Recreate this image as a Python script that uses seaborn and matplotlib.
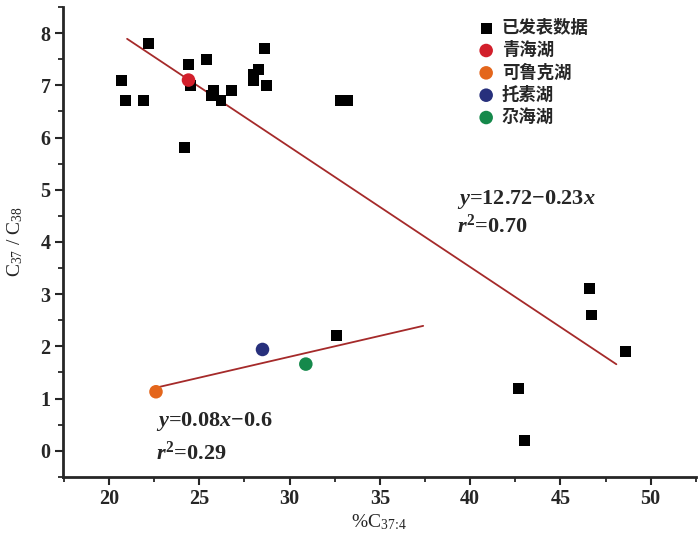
import matplotlib
matplotlib.use("Agg")
import matplotlib.pyplot as plt
import seaborn as sns
import pandas as pd
import numpy as np
from matplotlib.ticker import MultipleLocator
from matplotlib.font_manager import FontProperties

# ---- data ----
pub_x = [20.7, 20.9, 21.9, 22.2, 24.4, 24.5, 24.2, 25.4, 25.8, 25.7, 26.2,
         26.8, 28.0, 28.0, 28.3, 28.6, 28.7, 32.8, 33.2, 32.6, 42.7, 43.0,
         46.6, 46.7, 48.6]
pub_y = [7.1, 6.7, 6.7, 7.8, 7.4, 7.0, 5.8, 7.5, 6.9, 6.8, 6.7,
         6.9, 7.2, 7.1, 7.3, 7.7, 7.0, 6.7, 6.7, 2.2, 1.2, 0.2,
         3.1, 2.6, 1.9]
pub_label = "已发表数据"

lake_names = ["青海湖", "可鲁克湖", "托素湖", "尕海湖"]
lake_x = [24.4, 22.6, 28.5, 30.9]
lake_y = [7.1, 1.13, 1.94, 1.66]
lake_colors = ["#d21f2b", "#e4661c", "#27307c", "#15894b"]

fit1_coef = [12.72, -0.23]   # intercept, slope
fit1_xrange = [21.0, 48.1]
fit2_coef = [-0.6, 0.08]
fit2_xrange = [22.6, 37.4]
fit_color = "#a52a2a"

xticks = [20, 25, 30, 35, 40, 45, 50]
yticks = [0, 1, 2, 3, 4, 5, 6, 7, 8]

# ---- style ----
sns.set_style("ticks")
plt.rcParams["font.family"] = ["Liberation Serif", "DejaVu Serif"]
plt.rcParams["mathtext.fontset"] = "custom"
plt.rcParams["mathtext.rm"] = "Liberation Serif"
plt.rcParams["mathtext.it"] = "Liberation Serif:italic:bold"
plt.rcParams["mathtext.bf"] = "Liberation Serif:bold"

fig = plt.figure(figsize=(7.0, 5.37), dpi=100)
ax = fig.add_axes([0.090, 0.112, 0.904, 0.875])

# regression lines
for coef, xr in [(fit1_coef, fit1_xrange), (fit2_coef, fit2_xrange)]:
    xs = np.array(xr)
    ys = coef[0] + coef[1] * xs
    sns.lineplot(x=xs, y=ys, color=fit_color, linewidth=1.3, ax=ax,
                 legend=False, zorder=2)

# published data
sns.scatterplot(x=pub_x, y=pub_y, marker="s", s=62, color="black",
                edgecolor="none", label=pub_label, ax=ax, zorder=3)
# lakes
for name, xv, yv, c in zip(lake_names, lake_x, lake_y, lake_colors):
    sns.scatterplot(x=[xv], y=[yv], marker="o", s=95, color=c,
                    edgecolor="none", label=name, ax=ax, zorder=4)

ax.set_xlim(17.45, 52.5)
ax.set_ylim(-0.5, 8.5)
ax.set_xticks(xticks)
ax.set_yticks(yticks)
ax.xaxis.set_minor_locator(MultipleLocator(2.5))
ax.yaxis.set_minor_locator(MultipleLocator(0.5))
ax.tick_params(which="major", length=6, width=1.5, direction="out",
               labelsize=14.5, pad=3)
ax.tick_params(which="minor", length=3.5, width=1.3, direction="out")
for lab in ax.get_xticklabels() + ax.get_yticklabels():
    lab.set_fontweight("bold")
sns.despine(ax=ax)
for s in ["left", "bottom"]:
    ax.spines[s].set_linewidth(2.0)

ax.set_xlabel(r"%C$_{37\!:\!4}$", fontsize=14, labelpad=2)
ax.set_ylabel("C$_{37}$ / C$_{38}$", fontsize=14, labelpad=11)

# equations
eq_kw = dict(fontsize=16, fontweight="bold", va="center", ha="left")
ax.text(39.3, 4.82, r"$\mathit{y}$=12.72" + "\u2212" + r"0.23$\mathit{x}$", **eq_kw)
ax.text(39.3, 4.30, r"$\mathit{r}^{\mathbf{2}}$=0.70", **eq_kw)
ax.text(22.6, 0.56, r"$\mathit{y}$=0.08$\mathit{x}$" + "\u2212" + "0.6", **eq_kw)
ax.text(22.6, -0.05, r"$\mathit{r}^{\mathbf{2}}$=0.29", **eq_kw)

leg = ax.legend(frameon=False, loc="upper left", bbox_to_anchor=(0.655, 0.975),
                prop=FontProperties(family=["Noto Sans CJK SC"], size=12.5,
                                    weight="bold"),
                handletextpad=0.4, labelspacing=0.25, borderaxespad=0,
                borderpad=0, handlelength=1.0)

fig.savefig("out.png", dpi=100)
